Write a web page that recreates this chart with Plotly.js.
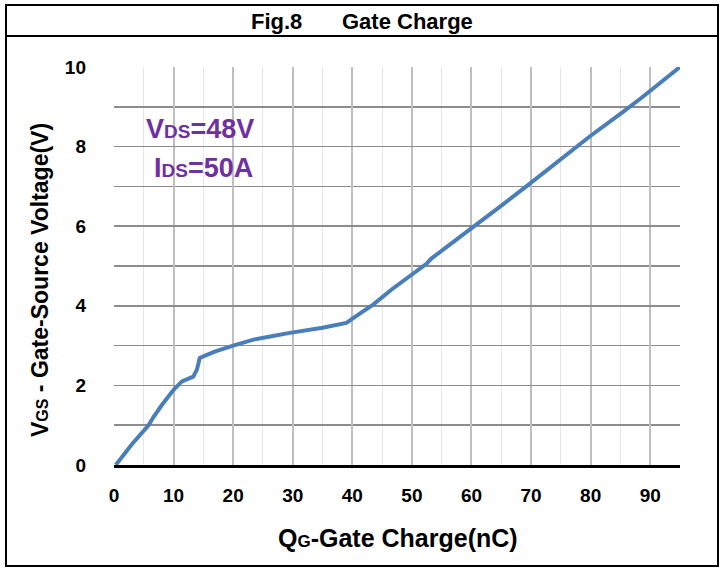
<!DOCTYPE html>
<html>
<head>
<meta charset="utf-8">
<script src="https://cdn.plot.ly/plotly-3.0.1.min.js"></script>
<style>
html,body{margin:0;padding:0;background:#fff;}
#chart{width:726px;height:569px;}
</style>
</head>
<body>
<div id="chart"></div>
<script>
// Gate charge curve (QG in nC, VGS in V)
const qg = [0.3, 3, 5.8, 6.6, 8, 10, 11.4, 13.3, 13.9, 14.4, 15.3, 16.9, 20, 23.4, 26, 29.5, 35, 39, 41.8, 43.5, 46.6, 49.9, 52.5, 53.2, 54.1, 58.1, 64.8, 69.8, 77.6, 79.9, 85.5, 88.5, 95];
const vgs = [0, 0.52, 1.0, 1.2, 1.5, 1.89, 2.1, 2.22, 2.39, 2.69, 2.75, 2.85, 3.0, 3.15, 3.22, 3.32, 3.45, 3.57, 3.86, 4.03, 4.41, 4.78, 5.06, 5.18, 5.28, 5.74, 6.49, 7.07, 7.98, 8.26, 8.88, 9.22, 10];
const xTicks = [0, 10, 20, 30, 40, 50, 60, 70, 80, 90];
const yTicks = [0, 2, 4, 6, 8, 10];

const FONT = '"Liberation Sans", Arial, sans-serif';

// plot area in pixels: x 114..680, y 67..465
const L = 114, R = 680, T = 67, B = 465;
const px = p => (p - L) / (R - L);
const py = q => (B - q) / (B - T);

const trace = {
  x: qg, y: vgs, type: 'scatter', mode: 'lines',
  line: {color: '#4a7ebb', width: 4},
  hoverinfo: 'skip'
};

const layout = {
  width: 726, height: 569,
  margin: {l: L, r: 726 - R, t: T, b: 569 - B, pad: 0},
  paper_bgcolor: '#fff', plot_bgcolor: '#fff',
  showlegend: false,
  font: {family: FONT, color: '#000'},
  xaxis: {
    range: [0, 95], tickvals: xTicks, ticktext: xTicks.map(String),
    showgrid: true, gridcolor: '#bfbfbf', gridwidth: 2,
    minor: {dtick: 5, tick0: 0, showgrid: true, gridcolor: '#e6e6e6', gridwidth: 1},
    zeroline: false, showline: true, linecolor: '#000', linewidth: 3,
    ticks: '', ticklabelstandoff: 11,
    tickfont: {family: FONT, size: 19, color: '#000', weight: 'bold'},
    fixedrange: true
  },
  yaxis: {
    range: [0, 10], tickvals: yTicks, ticktext: yTicks.map(String),
    showgrid: true, gridcolor: '#8c8c8c', gridwidth: 1.5,
    minor: {dtick: 1, tick0: 0, showgrid: true, gridcolor: '#8c8c8c', gridwidth: 1.5},
    zeroline: false, showline: false,
    ticks: '', ticklabelstandoff: 27,
    tickfont: {family: FONT, size: 19, color: '#000', weight: 'bold'},
    fixedrange: true
  },
  shapes: [
    {type: 'rect', xref: 'paper', yref: 'paper', x0: px(6), x1: px(718), y0: py(566), y1: py(5),
     line: {color: '#000', width: 2}, fillcolor: 'rgba(0,0,0,0)', layer: 'above'},
    {type: 'line', xref: 'paper', yref: 'paper', x0: px(6), x1: px(718), y0: py(36), y1: py(36),
     line: {color: '#000', width: 2}, layer: 'above'}
  ],
  annotations: [
    {text: '<b>Fig.8</b>', xref: 'paper', yref: 'paper', x: px(276), y: py(21),
     xanchor: 'center', yanchor: 'middle', showarrow: false,
     font: {family: FONT, size: 22, color: '#000'}},
    {text: '<b>Gate Charge</b>', xref: 'paper', yref: 'paper', x: px(407), y: py(21),
     xanchor: 'center', yanchor: 'middle', showarrow: false,
     font: {family: FONT, size: 22, color: '#000'}},
    {text: '<b>Q<span style="font-size:17px">G</span>-Gate Charge(nC)</b>', xref: 'paper', yref: 'paper',
     x: px(398), y: py(538), xanchor: 'center', yanchor: 'middle', showarrow: false,
     font: {family: FONT, size: 25, color: '#000'}},
    {text: '<b>V<span style="font-size:16px">GS</span> - Gate-Source Voltage(V)</b>', xref: 'paper', yref: 'paper',
     x: px(40), y: py(280), xanchor: 'center', yanchor: 'middle', textangle: -90, showarrow: false,
     font: {family: FONT, size: 23, color: '#000'}},
    {text: '<b>V<span style="font-size:19px">DS</span>=48V</b>', xref: 'paper', yref: 'paper',
     x: px(200), y: py(129), xanchor: 'center', yanchor: 'middle', showarrow: false,
     font: {family: FONT, size: 27, color: '#7030a0'}},
    {text: '<b>I<span style="font-size:19px">DS</span>=50A</b>', xref: 'paper', yref: 'paper',
     x: px(203), y: py(168), xanchor: 'center', yanchor: 'middle', showarrow: false,
     font: {family: FONT, size: 27, color: '#7030a0'}}
  ]
};

Plotly.newPlot('chart', [trace], layout, {displayModeBar: false, staticPlot: true});
</script>
</body>
</html>
